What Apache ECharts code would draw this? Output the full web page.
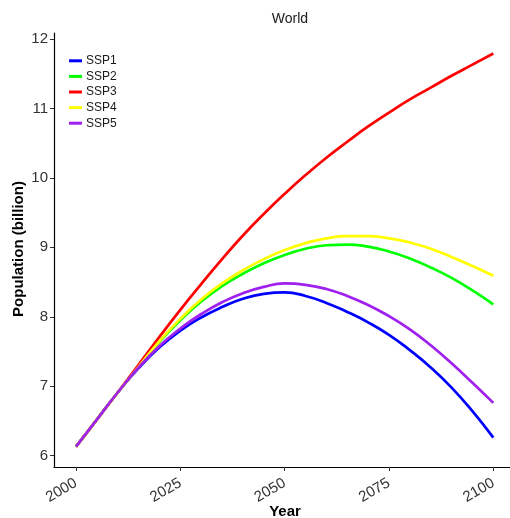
<!DOCTYPE html>
<html>
<head>
<meta charset="utf-8">
<script src="https://cdn.jsdelivr.net/npm/echarts@6/dist/echarts.min.js"></script>
<style>html,body{margin:0;padding:0;background:#fff}#c{width:510px;height:518px}</style>
</head>
<body>
<div id="c"></div>
<script>
var years = [2000,2005,2010,2015,2020,2025,2030,2035,2040,2045,2050,2055,2060,2065,2070,2075,2080,2085,2090,2095,2100];
var seriesNames = ['SSP1','SSP2','SSP3','SSP4','SSP5'];
var ssp1 = [6.13,6.52,6.91,7.26,7.56,7.80,7.99,8.14,8.26,8.33,8.35,8.30,8.20,8.07,7.92,7.74,7.52,7.27,6.98,6.64,6.26];
var ssp2 = [6.13,6.52,6.91,7.28,7.64,7.95,8.22,8.44,8.62,8.77,8.89,8.98,9.03,9.04,9.01,8.94,8.84,8.71,8.56,8.38,8.18];
var ssp3 = [6.13,6.52,6.91,7.31,7.71,8.10,8.47,8.83,9.17,9.48,9.77,10.04,10.29,10.52,10.74,10.94,11.13,11.30,11.47,11.63,11.79];
var ssp4 = [6.13,6.52,6.91,7.28,7.65,7.97,8.25,8.48,8.67,8.83,8.96,9.06,9.13,9.16,9.16,9.13,9.07,8.98,8.86,8.73,8.59];
var ssp5 = [6.13,6.52,6.91,7.27,7.58,7.83,8.04,8.21,8.34,8.43,8.48,8.46,8.40,8.30,8.17,8.01,7.82,7.59,7.33,7.05,6.76];
var xTicks = [2000,2025,2050,2075,2100];
var yTicks = [6,7,8,9,10,11,12];
var colors = ['#0000FF','#00FF00','#FF0000','#FFFF00','#A020F0'];
var allValues = [ssp1,ssp2,ssp3,ssp4,ssp5];

var FONT = 'Liberation Sans, Arial, sans-serif';
var chart = echarts.init(document.getElementById('c'), null, {renderer:'canvas'});
var series = seriesNames.map(function(n,i){
  return {
    name:n, type:'line', smooth:0.5, symbol:'none',
    lineStyle:{width:2.7, color:colors[i]}, itemStyle:{color:colors[i]},
    data: years.map(function(y,j){return [y, allValues[i][j]];}),
    z: 2+i
  };
});
chart.setOption({
  animation:false,
  backgroundColor:'#fff',
  title:{text:'World', left:285, top:7, textAlign:'center',
    textStyle:{fontFamily:FONT, fontSize:14, fontWeight:'normal', color:'#1a1a1a'}},
  legend:{orient:'vertical', left:69, top:53, padding:0, icon:'rect', itemWidth:13, itemHeight:3, itemGap:0,
    textStyle:{fontFamily:FONT, fontSize:12, color:'#1a1a1a', lineHeight:15.6, padding:[0,0,0,-1]},
    data:seriesNames},
  grid:{left:54, right:0, top:33, bottom:51, containLabel:false},
  xAxis:{type:'value', min:1994.73, max:2104.0,
    axisLine:{show:true, lineStyle:{color:'#000', width:1.2}},
    axisTick:{show:true, length:4, lineStyle:{color:'#333'}, customValues:xTicks},
    axisLabel:{rotate:30, margin:15, fontFamily:FONT, fontSize:15, color:'#333', customValues:xTicks,
      formatter:function(v){return String(v);}},
    splitLine:{show:false}},
  yAxis:{type:'value', min:5.837, max:12.086,
    axisLine:{show:true, lineStyle:{color:'#000', width:1.2}},
    axisTick:{show:true, length:4, lineStyle:{color:'#333'}, customValues:yTicks},
    axisLabel:{margin:6, fontFamily:FONT, fontSize:15, color:'#333', customValues:yTicks,
      formatter:function(v){return String(v);}},
    splitLine:{show:false}},
  graphic:[
    {type:'text', x:285, y:512, style:{text:'Year', font:'bold 15px '+FONT, fill:'#000', textAlign:'center', textVerticalAlign:'middle'}},
    {type:'text', x:18.5, y:249, rotation:Math.PI/2, style:{text:'Population (billion)', font:'bold 15px '+FONT, fill:'#000', textAlign:'center', textVerticalAlign:'middle'}}
  ],
  series:series
});
</script>
</body>
</html>
